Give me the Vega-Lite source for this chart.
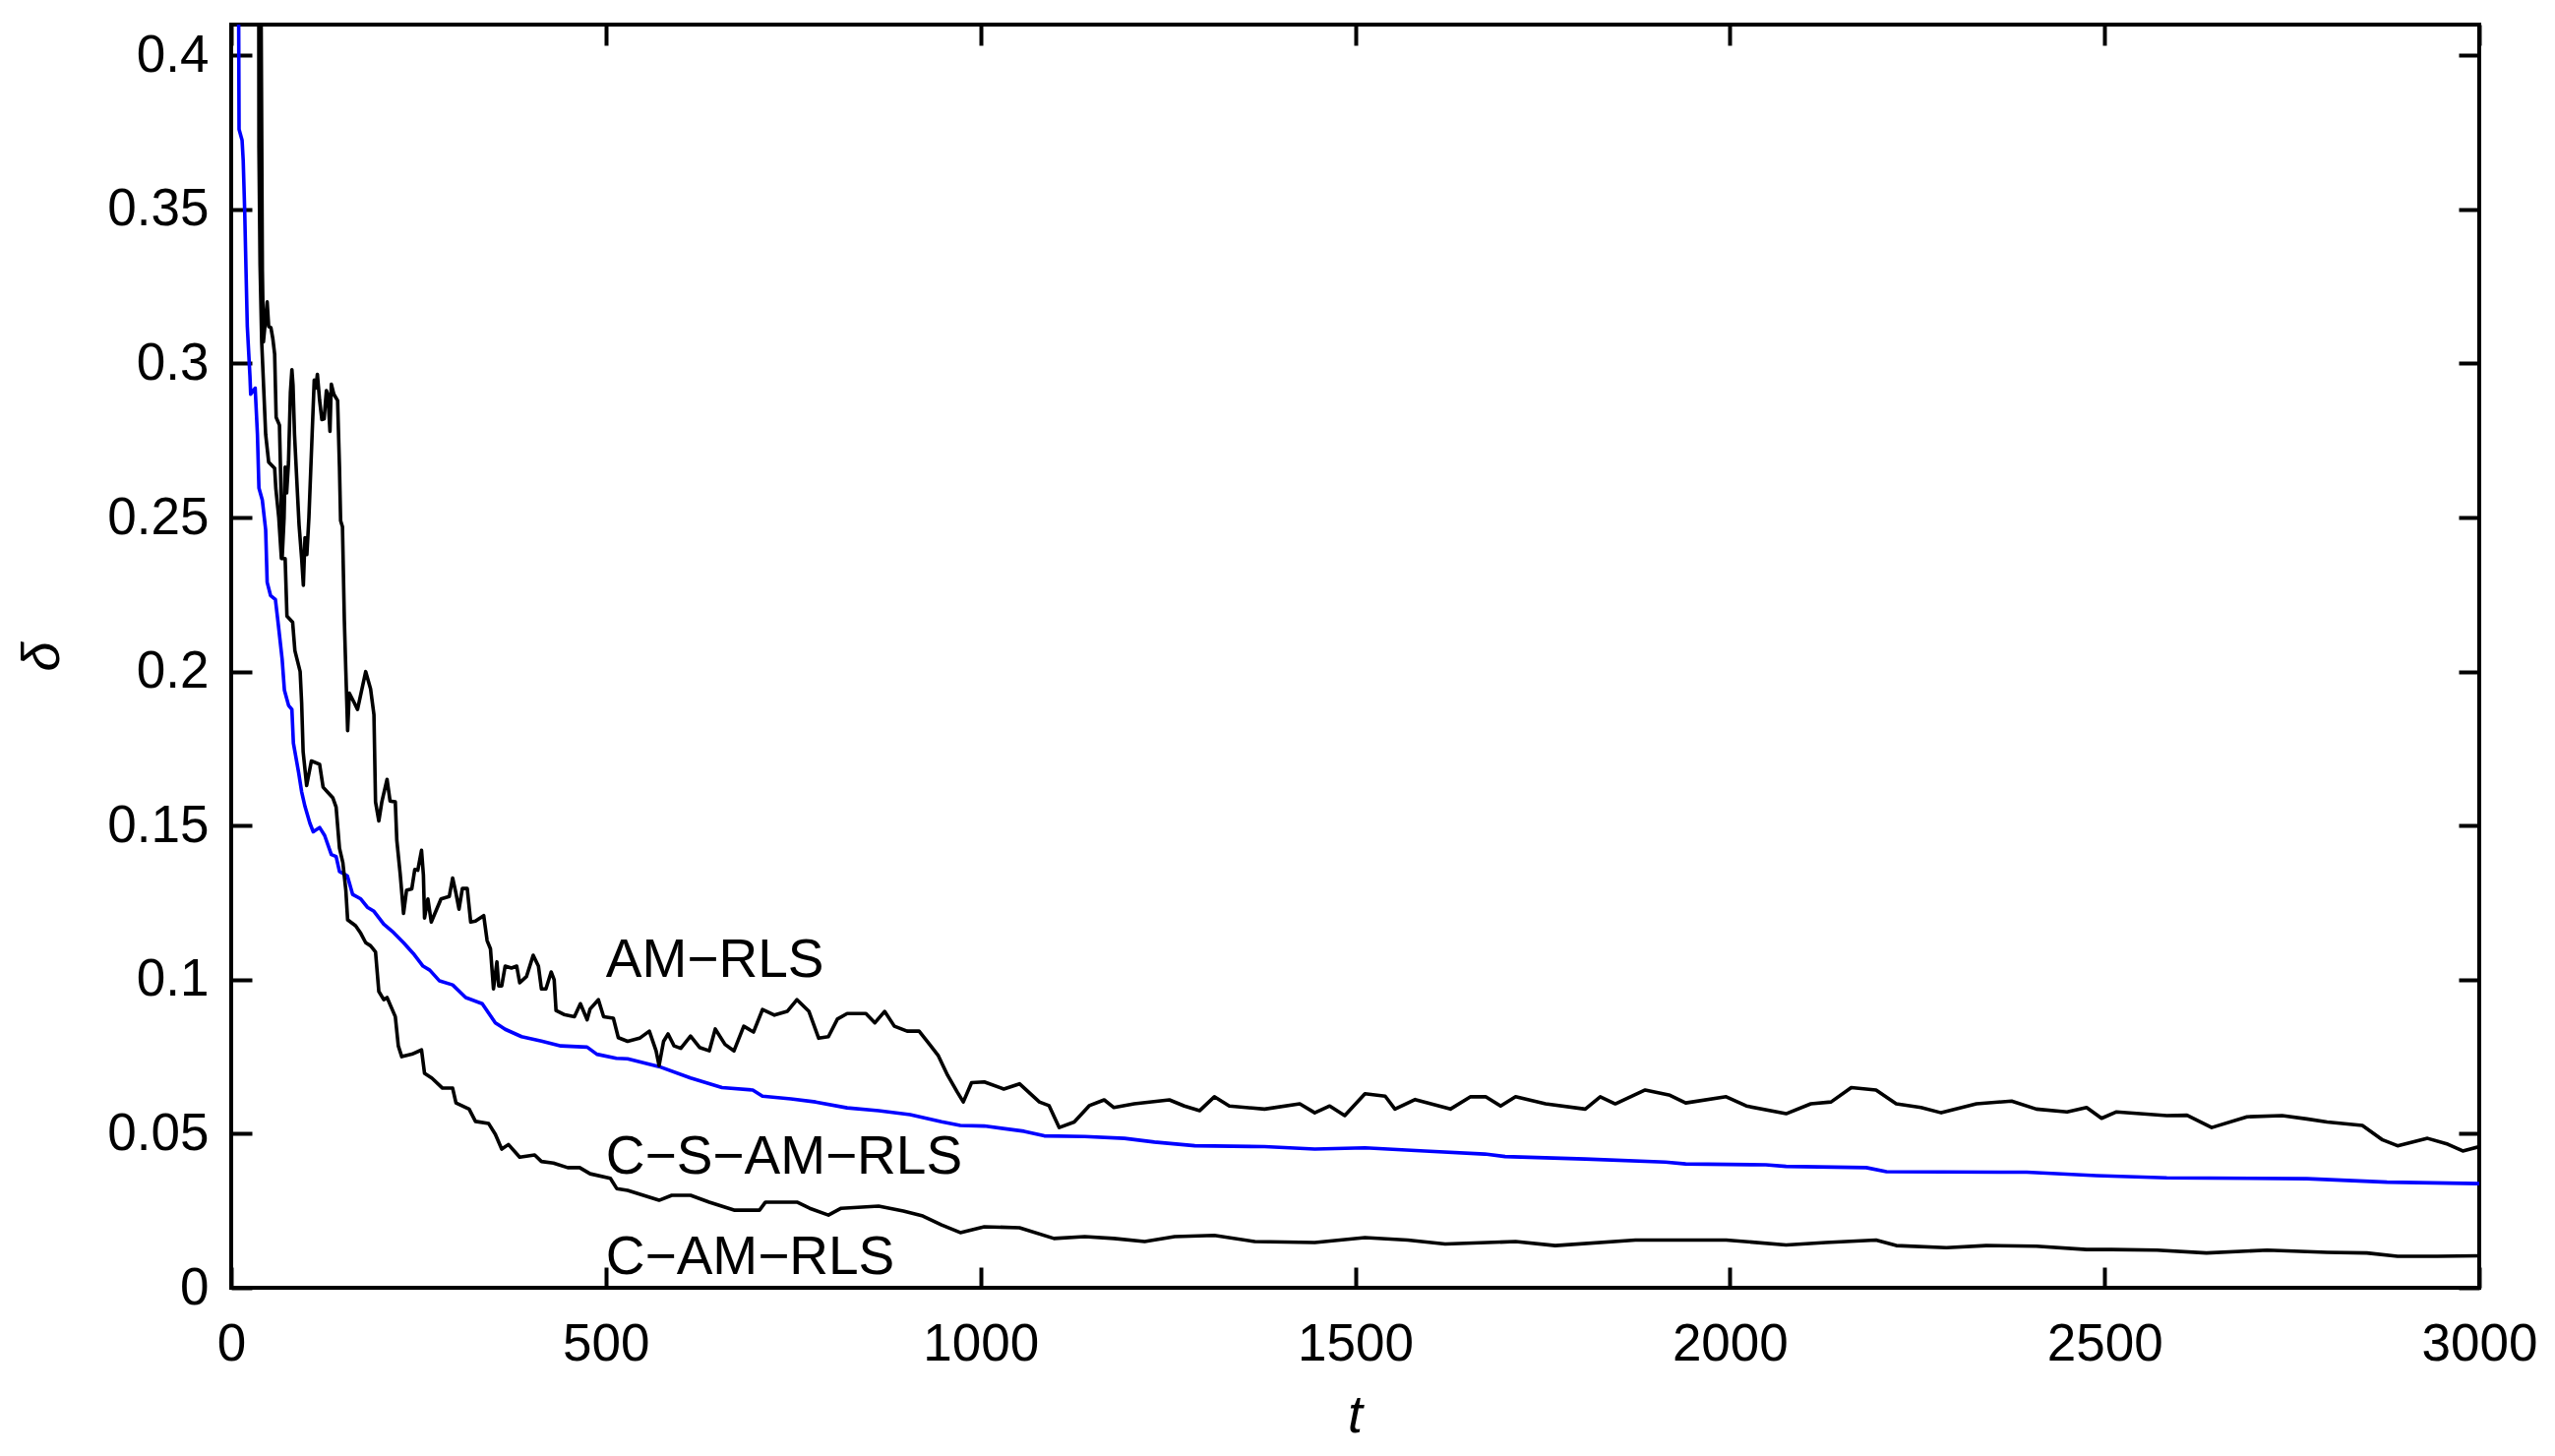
{
  "$schema": "https://vega.github.io/schema/vega-lite/v6.json",
  "width": 2285,
  "height": 1284,
  "autosize": "none",
  "padding": {"left": 235, "top": 25, "right": 77, "bottom": 171},
  "background": "white",
  "config": {
    "view": {"stroke": "black", "strokeWidth": 4},
    "font": "Liberation Sans",
    "axis": {
      "grid": false,
      "domain": false,
      "tickColor": "black",
      "tickWidth": 4,
      "tickSize": -21,
      "labelColor": "black",
      "labelFont": "Liberation Sans",
      "labelFontSize": 53,
      "labelFlush": false,
      "labelOverlap": false,
      "labelBound": false,
      "titleFont": "Liberation Sans",
      "titleColor": "black",
      "titleFontWeight": "normal",
      "titleFontStyle": "italic",
      "titleFontSize": 54
    }
  },
  "datasets": {
    "curves": [
      {"s": "C-S-AM-RLS", "t": 8, "d": 0.6}, {"s": "C-S-AM-RLS", "t": 10, "d": 0.41}, {"s": "C-S-AM-RLS", "t": 10.5, "d": 0.376}, {"s": "C-S-AM-RLS", "t": 14.5, "d": 0.3725}, {"s": "C-S-AM-RLS", "t": 16, "d": 0.366}, {"s": "C-S-AM-RLS", "t": 18, "d": 0.3496}, {"s": "C-S-AM-RLS", "t": 19.7, "d": 0.331}, {"s": "C-S-AM-RLS", "t": 21.5, "d": 0.312}, {"s": "C-S-AM-RLS", "t": 25, "d": 0.296}, {"s": "C-S-AM-RLS", "t": 26, "d": 0.29}, {"s": "C-S-AM-RLS", "t": 32, "d": 0.292}, {"s": "C-S-AM-RLS", "t": 35, "d": 0.277}, {"s": "C-S-AM-RLS", "t": 37, "d": 0.2596}, {"s": "C-S-AM-RLS", "t": 41.5, "d": 0.2557}, {"s": "C-S-AM-RLS", "t": 46, "d": 0.246}, {"s": "C-S-AM-RLS", "t": 48, "d": 0.229}, {"s": "C-S-AM-RLS", "t": 52.5, "d": 0.2247}, {"s": "C-S-AM-RLS", "t": 59, "d": 0.2234}, {"s": "C-S-AM-RLS", "t": 63, "d": 0.215}, {"s": "C-S-AM-RLS", "t": 68, "d": 0.204}, {"s": "C-S-AM-RLS", "t": 71, "d": 0.194}, {"s": "C-S-AM-RLS", "t": 76.6, "d": 0.189}, {"s": "C-S-AM-RLS", "t": 81, "d": 0.1877}, {"s": "C-S-AM-RLS", "t": 83, "d": 0.1768}, {"s": "C-S-AM-RLS", "t": 90, "d": 0.1672}, {"s": "C-S-AM-RLS", "t": 94, "d": 0.161}, {"s": "C-S-AM-RLS", "t": 98.5, "d": 0.1562}, {"s": "C-S-AM-RLS", "t": 105, "d": 0.1508}, {"s": "C-S-AM-RLS", "t": 109.5, "d": 0.148}, {"s": "C-S-AM-RLS", "t": 118, "d": 0.1494}, {"s": "C-S-AM-RLS", "t": 124.7, "d": 0.1468}, {"s": "C-S-AM-RLS", "t": 133.6, "d": 0.1406}, {"s": "C-S-AM-RLS", "t": 140, "d": 0.14}, {"s": "C-S-AM-RLS", "t": 144.5, "d": 0.1351}, {"s": "C-S-AM-RLS", "t": 155, "d": 0.1337}, {"s": "C-S-AM-RLS", "t": 162, "d": 0.1277}, {"s": "C-S-AM-RLS", "t": 173, "d": 0.1262}, {"s": "C-S-AM-RLS", "t": 181.7, "d": 0.1235}, {"s": "C-S-AM-RLS", "t": 190.5, "d": 0.1222}, {"s": "C-S-AM-RLS", "t": 203.6, "d": 0.118}, {"s": "C-S-AM-RLS", "t": 216.7, "d": 0.1153}, {"s": "C-S-AM-RLS", "t": 230, "d": 0.112}, {"s": "C-S-AM-RLS", "t": 243, "d": 0.1085}, {"s": "C-S-AM-RLS", "t": 256, "d": 0.1044}, {"s": "C-S-AM-RLS", "t": 265, "d": 0.1031}, {"s": "C-S-AM-RLS", "t": 278, "d": 0.0996}, {"s": "C-S-AM-RLS", "t": 295.5, "d": 0.0983}, {"s": "C-S-AM-RLS", "t": 313, "d": 0.0942}, {"s": "C-S-AM-RLS", "t": 335, "d": 0.0922}, {"s": "C-S-AM-RLS", "t": 352.5, "d": 0.086}, {"s": "C-S-AM-RLS", "t": 365.6, "d": 0.0839}, {"s": "C-S-AM-RLS", "t": 387.5, "d": 0.0815}, {"s": "C-S-AM-RLS", "t": 414, "d": 0.0801}, {"s": "C-S-AM-RLS", "t": 440, "d": 0.0785}, {"s": "C-S-AM-RLS", "t": 475, "d": 0.0781}, {"s": "C-S-AM-RLS", "t": 488, "d": 0.0758}, {"s": "C-S-AM-RLS", "t": 514, "d": 0.0745}, {"s": "C-S-AM-RLS", "t": 529, "d": 0.0743}, {"s": "C-S-AM-RLS", "t": 571, "d": 0.0718}, {"s": "C-S-AM-RLS", "t": 613, "d": 0.0681}, {"s": "C-S-AM-RLS", "t": 655, "d": 0.065}, {"s": "C-S-AM-RLS", "t": 696, "d": 0.0642}, {"s": "C-S-AM-RLS", "t": 709, "d": 0.0622}, {"s": "C-S-AM-RLS", "t": 747, "d": 0.0613}, {"s": "C-S-AM-RLS", "t": 780, "d": 0.0603}, {"s": "C-S-AM-RLS", "t": 822, "d": 0.0584}, {"s": "C-S-AM-RLS", "t": 864, "d": 0.0575}, {"s": "C-S-AM-RLS", "t": 906, "d": 0.0562}, {"s": "C-S-AM-RLS", "t": 948, "d": 0.0539}, {"s": "C-S-AM-RLS", "t": 973, "d": 0.0527}, {"s": "C-S-AM-RLS", "t": 1005, "d": 0.0525}, {"s": "C-S-AM-RLS", "t": 1058, "d": 0.0508}, {"s": "C-S-AM-RLS", "t": 1085, "d": 0.0493}, {"s": "C-S-AM-RLS", "t": 1139, "d": 0.0491}, {"s": "C-S-AM-RLS", "t": 1192, "d": 0.0485}, {"s": "C-S-AM-RLS", "t": 1232, "d": 0.0473}, {"s": "C-S-AM-RLS", "t": 1286, "d": 0.0461}, {"s": "C-S-AM-RLS", "t": 1379, "d": 0.0458}, {"s": "C-S-AM-RLS", "t": 1446, "d": 0.045}, {"s": "C-S-AM-RLS", "t": 1513, "d": 0.0454}, {"s": "C-S-AM-RLS", "t": 1593, "d": 0.0444}, {"s": "C-S-AM-RLS", "t": 1673, "d": 0.0434}, {"s": "C-S-AM-RLS", "t": 1700, "d": 0.0426}, {"s": "C-S-AM-RLS", "t": 1807, "d": 0.0418}, {"s": "C-S-AM-RLS", "t": 1914, "d": 0.0408}, {"s": "C-S-AM-RLS", "t": 1941, "d": 0.0402}, {"s": "C-S-AM-RLS", "t": 2048, "d": 0.0399}, {"s": "C-S-AM-RLS", "t": 2075, "d": 0.0394}, {"s": "C-S-AM-RLS", "t": 2182, "d": 0.039}, {"s": "C-S-AM-RLS", "t": 2209, "d": 0.0377}, {"s": "C-S-AM-RLS", "t": 2396, "d": 0.0375}, {"s": "C-S-AM-RLS", "t": 2489, "d": 0.0364}, {"s": "C-S-AM-RLS", "t": 2583, "d": 0.0357}, {"s": "C-S-AM-RLS", "t": 2770, "d": 0.0354}, {"s": "C-S-AM-RLS", "t": 2877, "d": 0.0343}, {"s": "C-S-AM-RLS", "t": 3000, "d": 0.0338},

      {"s": "C-AM-RLS", "t": 36, "d": 0.6}, {"s": "C-AM-RLS", "t": 37, "d": 0.37}, {"s": "C-AM-RLS", "t": 38.5, "d": 0.332}, {"s": "C-AM-RLS", "t": 40.7, "d": 0.307}, {"s": "C-AM-RLS", "t": 46, "d": 0.277}, {"s": "C-AM-RLS", "t": 50, "d": 0.268}, {"s": "C-AM-RLS", "t": 58, "d": 0.266}, {"s": "C-AM-RLS", "t": 59.5, "d": 0.2596}, {"s": "C-AM-RLS", "t": 63.5, "d": 0.25}, {"s": "C-AM-RLS", "t": 67, "d": 0.2367}, {"s": "C-AM-RLS", "t": 72, "d": 0.2367}, {"s": "C-AM-RLS", "t": 74.4, "d": 0.218}, {"s": "C-AM-RLS", "t": 82, "d": 0.216}, {"s": "C-AM-RLS", "t": 85, "d": 0.2068}, {"s": "C-AM-RLS", "t": 92, "d": 0.2}, {"s": "C-AM-RLS", "t": 94, "d": 0.19}, {"s": "C-AM-RLS", "t": 96, "d": 0.174}, {"s": "C-AM-RLS", "t": 100.7, "d": 0.163}, {"s": "C-AM-RLS", "t": 107, "d": 0.171}, {"s": "C-AM-RLS", "t": 118, "d": 0.1699}, {"s": "C-AM-RLS", "t": 122.6, "d": 0.1625}, {"s": "C-AM-RLS", "t": 129, "d": 0.1608}, {"s": "C-AM-RLS", "t": 135.7, "d": 0.159}, {"s": "C-AM-RLS", "t": 140, "d": 0.156}, {"s": "C-AM-RLS", "t": 144.5, "d": 0.1427}, {"s": "C-AM-RLS", "t": 149, "d": 0.138}, {"s": "C-AM-RLS", "t": 153, "d": 0.129}, {"s": "C-AM-RLS", "t": 155.4, "d": 0.1194}, {"s": "C-AM-RLS", "t": 166, "d": 0.1175}, {"s": "C-AM-RLS", "t": 173, "d": 0.115}, {"s": "C-AM-RLS", "t": 179.5, "d": 0.112}, {"s": "C-AM-RLS", "t": 186, "d": 0.111}, {"s": "C-AM-RLS", "t": 192.6, "d": 0.109}, {"s": "C-AM-RLS", "t": 197, "d": 0.0962}, {"s": "C-AM-RLS", "t": 203.6, "d": 0.0935}, {"s": "C-AM-RLS", "t": 208, "d": 0.0942}, {"s": "C-AM-RLS", "t": 219, "d": 0.088}, {"s": "C-AM-RLS", "t": 223, "d": 0.0785}, {"s": "C-AM-RLS", "t": 227.6, "d": 0.075}, {"s": "C-AM-RLS", "t": 241, "d": 0.0758}, {"s": "C-AM-RLS", "t": 254, "d": 0.0772}, {"s": "C-AM-RLS", "t": 258, "d": 0.0696}, {"s": "C-AM-RLS", "t": 268, "d": 0.068}, {"s": "C-AM-RLS", "t": 282, "d": 0.0648}, {"s": "C-AM-RLS", "t": 295.5, "d": 0.0648}, {"s": "C-AM-RLS", "t": 300, "d": 0.06}, {"s": "C-AM-RLS", "t": 317.5, "d": 0.058}, {"s": "C-AM-RLS", "t": 326, "d": 0.054}, {"s": "C-AM-RLS", "t": 343.6, "d": 0.0533}, {"s": "C-AM-RLS", "t": 352.5, "d": 0.0498}, {"s": "C-AM-RLS", "t": 361, "d": 0.045}, {"s": "C-AM-RLS", "t": 370, "d": 0.0465}, {"s": "C-AM-RLS", "t": 385, "d": 0.0424}, {"s": "C-AM-RLS", "t": 405, "d": 0.0431}, {"s": "C-AM-RLS", "t": 414, "d": 0.041}, {"s": "C-AM-RLS", "t": 430, "d": 0.0405}, {"s": "C-AM-RLS", "t": 449, "d": 0.039}, {"s": "C-AM-RLS", "t": 465, "d": 0.039}, {"s": "C-AM-RLS", "t": 479, "d": 0.037}, {"s": "C-AM-RLS", "t": 506, "d": 0.0355}, {"s": "C-AM-RLS", "t": 514.5, "d": 0.0322}, {"s": "C-AM-RLS", "t": 529, "d": 0.0316}, {"s": "C-AM-RLS", "t": 571, "d": 0.0284}, {"s": "C-AM-RLS", "t": 588, "d": 0.03}, {"s": "C-AM-RLS", "t": 613, "d": 0.03}, {"s": "C-AM-RLS", "t": 638, "d": 0.0278}, {"s": "C-AM-RLS", "t": 671, "d": 0.0252}, {"s": "C-AM-RLS", "t": 705, "d": 0.0252}, {"s": "C-AM-RLS", "t": 713, "d": 0.0278}, {"s": "C-AM-RLS", "t": 755, "d": 0.0278}, {"s": "C-AM-RLS", "t": 772, "d": 0.0258}, {"s": "C-AM-RLS", "t": 797, "d": 0.0236}, {"s": "C-AM-RLS", "t": 814, "d": 0.0258}, {"s": "C-AM-RLS", "t": 864, "d": 0.0265}, {"s": "C-AM-RLS", "t": 897, "d": 0.0249}, {"s": "C-AM-RLS", "t": 923, "d": 0.0233}, {"s": "C-AM-RLS", "t": 948, "d": 0.0204}, {"s": "C-AM-RLS", "t": 973, "d": 0.0179}, {"s": "C-AM-RLS", "t": 1005, "d": 0.0198}, {"s": "C-AM-RLS", "t": 1052, "d": 0.0195}, {"s": "C-AM-RLS", "t": 1098, "d": 0.016}, {"s": "C-AM-RLS", "t": 1139, "d": 0.0166}, {"s": "C-AM-RLS", "t": 1178, "d": 0.016}, {"s": "C-AM-RLS", "t": 1219, "d": 0.015}, {"s": "C-AM-RLS", "t": 1259, "d": 0.0166}, {"s": "C-AM-RLS", "t": 1312, "d": 0.017}, {"s": "C-AM-RLS", "t": 1366, "d": 0.015}, {"s": "C-AM-RLS", "t": 1446, "d": 0.0147}, {"s": "C-AM-RLS", "t": 1513, "d": 0.0163}, {"s": "C-AM-RLS", "t": 1570, "d": 0.0155}, {"s": "C-AM-RLS", "t": 1620, "d": 0.0142}, {"s": "C-AM-RLS", "t": 1714, "d": 0.015}, {"s": "C-AM-RLS", "t": 1767, "d": 0.0137}, {"s": "C-AM-RLS", "t": 1874, "d": 0.0155}, {"s": "C-AM-RLS", "t": 1995, "d": 0.0155}, {"s": "C-AM-RLS", "t": 2075, "d": 0.0139}, {"s": "C-AM-RLS", "t": 2128, "d": 0.0147}, {"s": "C-AM-RLS", "t": 2195, "d": 0.0155}, {"s": "C-AM-RLS", "t": 2222, "d": 0.0137}, {"s": "C-AM-RLS", "t": 2289, "d": 0.013}, {"s": "C-AM-RLS", "t": 2342, "d": 0.0137}, {"s": "C-AM-RLS", "t": 2409, "d": 0.0135}, {"s": "C-AM-RLS", "t": 2476, "d": 0.0124}, {"s": "C-AM-RLS", "t": 2509, "d": 0.0124}, {"s": "C-AM-RLS", "t": 2570, "d": 0.0122}, {"s": "C-AM-RLS", "t": 2636, "d": 0.0113}, {"s": "C-AM-RLS", "t": 2717, "d": 0.0122}, {"s": "C-AM-RLS", "t": 2797, "d": 0.0115}, {"s": "C-AM-RLS", "t": 2850, "d": 0.0113}, {"s": "C-AM-RLS", "t": 2891, "d": 0.0102}, {"s": "C-AM-RLS", "t": 2944, "d": 0.0102}, {"s": "C-AM-RLS", "t": 3000, "d": 0.0104},

      {"s": "AM-RLS", "t": 38, "d": 0.6}, {"s": "AM-RLS", "t": 40, "d": 0.41}, {"s": "AM-RLS", "t": 41.6, "d": 0.33}, {"s": "AM-RLS", "t": 43, "d": 0.307}, {"s": "AM-RLS", "t": 48, "d": 0.32}, {"s": "AM-RLS", "t": 50, "d": 0.312}, {"s": "AM-RLS", "t": 53, "d": 0.3116}, {"s": "AM-RLS", "t": 55.6, "d": 0.308}, {"s": "AM-RLS", "t": 58, "d": 0.303}, {"s": "AM-RLS", "t": 60, "d": 0.2825}, {"s": "AM-RLS", "t": 64.4, "d": 0.28}, {"s": "AM-RLS", "t": 66, "d": 0.2636}, {"s": "AM-RLS", "t": 68, "d": 0.2368}, {"s": "AM-RLS", "t": 70.6, "d": 0.25}, {"s": "AM-RLS", "t": 72, "d": 0.2664}, {"s": "AM-RLS", "t": 74, "d": 0.258}, {"s": "AM-RLS", "t": 76.5, "d": 0.268}, {"s": "AM-RLS", "t": 79, "d": 0.2905}, {"s": "AM-RLS", "t": 81, "d": 0.298}, {"s": "AM-RLS", "t": 82.5, "d": 0.293}, {"s": "AM-RLS", "t": 84.5, "d": 0.277}, {"s": "AM-RLS", "t": 88.6, "d": 0.257}, {"s": "AM-RLS", "t": 90.6, "d": 0.2475}, {"s": "AM-RLS", "t": 94, "d": 0.2368}, {"s": "AM-RLS", "t": 96.3, "d": 0.228}, {"s": "AM-RLS", "t": 98.5, "d": 0.2435}, {"s": "AM-RLS", "t": 101, "d": 0.238}, {"s": "AM-RLS", "t": 103.7, "d": 0.25}, {"s": "AM-RLS", "t": 108, "d": 0.277}, {"s": "AM-RLS", "t": 110.8, "d": 0.2946}, {"s": "AM-RLS", "t": 113, "d": 0.292}, {"s": "AM-RLS", "t": 115, "d": 0.2965}, {"s": "AM-RLS", "t": 118, "d": 0.288}, {"s": "AM-RLS", "t": 121, "d": 0.2818}, {"s": "AM-RLS", "t": 124, "d": 0.282}, {"s": "AM-RLS", "t": 127, "d": 0.2912}, {"s": "AM-RLS", "t": 129, "d": 0.29}, {"s": "AM-RLS", "t": 131.8, "d": 0.278}, {"s": "AM-RLS", "t": 133.6, "d": 0.2933}, {"s": "AM-RLS", "t": 137, "d": 0.29}, {"s": "AM-RLS", "t": 142, "d": 0.288}, {"s": "AM-RLS", "t": 144.5, "d": 0.2664}, {"s": "AM-RLS", "t": 146, "d": 0.249}, {"s": "AM-RLS", "t": 148.5, "d": 0.247}, {"s": "AM-RLS", "t": 151, "d": 0.2167}, {"s": "AM-RLS", "t": 153, "d": 0.2}, {"s": "AM-RLS", "t": 155.4, "d": 0.1808}, {"s": "AM-RLS", "t": 157.6, "d": 0.193}, {"s": "AM-RLS", "t": 164, "d": 0.19}, {"s": "AM-RLS", "t": 168.6, "d": 0.1877}, {"s": "AM-RLS", "t": 179.5, "d": 0.2}, {"s": "AM-RLS", "t": 186, "d": 0.1944}, {"s": "AM-RLS", "t": 190.5, "d": 0.186}, {"s": "AM-RLS", "t": 192.6, "d": 0.1577}, {"s": "AM-RLS", "t": 197, "d": 0.1515}, {"s": "AM-RLS", "t": 201, "d": 0.1577}, {"s": "AM-RLS", "t": 208, "d": 0.165}, {"s": "AM-RLS", "t": 212, "d": 0.158}, {"s": "AM-RLS", "t": 219, "d": 0.1577}, {"s": "AM-RLS", "t": 221, "d": 0.1453}, {"s": "AM-RLS", "t": 225.5, "d": 0.1344}, {"s": "AM-RLS", "t": 230, "d": 0.1215}, {"s": "AM-RLS", "t": 234, "d": 0.129}, {"s": "AM-RLS", "t": 241, "d": 0.1295}, {"s": "AM-RLS", "t": 245, "d": 0.1358}, {"s": "AM-RLS", "t": 249, "d": 0.1355}, {"s": "AM-RLS", "t": 254, "d": 0.142}, {"s": "AM-RLS", "t": 256.5, "d": 0.134}, {"s": "AM-RLS", "t": 258, "d": 0.12}, {"s": "AM-RLS", "t": 262.5, "d": 0.1262}, {"s": "AM-RLS", "t": 267, "d": 0.1187}, {"s": "AM-RLS", "t": 271, "d": 0.121}, {"s": "AM-RLS", "t": 280, "d": 0.1262}, {"s": "AM-RLS", "t": 291, "d": 0.127}, {"s": "AM-RLS", "t": 295.5, "d": 0.133}, {"s": "AM-RLS", "t": 300, "d": 0.128}, {"s": "AM-RLS", "t": 304, "d": 0.1229}, {"s": "AM-RLS", "t": 308.5, "d": 0.1296}, {"s": "AM-RLS", "t": 315, "d": 0.1296}, {"s": "AM-RLS", "t": 319.6, "d": 0.1187}, {"s": "AM-RLS", "t": 326, "d": 0.119}, {"s": "AM-RLS", "t": 337, "d": 0.1208}, {"s": "AM-RLS", "t": 341.5, "d": 0.1127}, {"s": "AM-RLS", "t": 346, "d": 0.11}, {"s": "AM-RLS", "t": 350, "d": 0.097}, {"s": "AM-RLS", "t": 354.6, "d": 0.1058}, {"s": "AM-RLS", "t": 357, "d": 0.098}, {"s": "AM-RLS", "t": 361, "d": 0.098}, {"s": "AM-RLS", "t": 365.6, "d": 0.1044}, {"s": "AM-RLS", "t": 374, "d": 0.1038}, {"s": "AM-RLS", "t": 381, "d": 0.1044}, {"s": "AM-RLS", "t": 385, "d": 0.099}, {"s": "AM-RLS", "t": 394, "d": 0.101}, {"s": "AM-RLS", "t": 403, "d": 0.1079}, {"s": "AM-RLS", "t": 410, "d": 0.1044}, {"s": "AM-RLS", "t": 414, "d": 0.097}, {"s": "AM-RLS", "t": 420, "d": 0.097}, {"s": "AM-RLS", "t": 427, "d": 0.1025}, {"s": "AM-RLS", "t": 431, "d": 0.1}, {"s": "AM-RLS", "t": 433.5, "d": 0.09}, {"s": "AM-RLS", "t": 444, "d": 0.0887}, {"s": "AM-RLS", "t": 458, "d": 0.088}, {"s": "AM-RLS", "t": 466, "d": 0.0922}, {"s": "AM-RLS", "t": 475, "d": 0.087}, {"s": "AM-RLS", "t": 479, "d": 0.0905}, {"s": "AM-RLS", "t": 490, "d": 0.0935}, {"s": "AM-RLS", "t": 497, "d": 0.088}, {"s": "AM-RLS", "t": 510, "d": 0.0875}, {"s": "AM-RLS", "t": 516.6, "d": 0.0812}, {"s": "AM-RLS", "t": 529, "d": 0.08}, {"s": "AM-RLS", "t": 545, "d": 0.081}, {"s": "AM-RLS", "t": 558, "d": 0.0833}, {"s": "AM-RLS", "t": 567, "d": 0.0769}, {"s": "AM-RLS", "t": 571, "d": 0.0721}, {"s": "AM-RLS", "t": 577, "d": 0.08}, {"s": "AM-RLS", "t": 583, "d": 0.0824}, {"s": "AM-RLS", "t": 591, "d": 0.0785}, {"s": "AM-RLS", "t": 600, "d": 0.0777}, {"s": "AM-RLS", "t": 613, "d": 0.0817}, {"s": "AM-RLS", "t": 625, "d": 0.078}, {"s": "AM-RLS", "t": 638, "d": 0.0769}, {"s": "AM-RLS", "t": 646, "d": 0.084}, {"s": "AM-RLS", "t": 659, "d": 0.079}, {"s": "AM-RLS", "t": 671, "d": 0.0769}, {"s": "AM-RLS", "t": 684, "d": 0.0849}, {"s": "AM-RLS", "t": 697, "d": 0.083}, {"s": "AM-RLS", "t": 709, "d": 0.0903}, {"s": "AM-RLS", "t": 725, "d": 0.0885}, {"s": "AM-RLS", "t": 742, "d": 0.0897}, {"s": "AM-RLS", "t": 755, "d": 0.0935}, {"s": "AM-RLS", "t": 771, "d": 0.0897}, {"s": "AM-RLS", "t": 784, "d": 0.081}, {"s": "AM-RLS", "t": 797, "d": 0.0815}, {"s": "AM-RLS", "t": 809, "d": 0.0872}, {"s": "AM-RLS", "t": 822, "d": 0.089}, {"s": "AM-RLS", "t": 847, "d": 0.089}, {"s": "AM-RLS", "t": 859, "d": 0.086}, {"s": "AM-RLS", "t": 872, "d": 0.0897}, {"s": "AM-RLS", "t": 885, "d": 0.0849}, {"s": "AM-RLS", "t": 902, "d": 0.0833}, {"s": "AM-RLS", "t": 918, "d": 0.0833}, {"s": "AM-RLS", "t": 931, "d": 0.0793}, {"s": "AM-RLS", "t": 943.7, "d": 0.0753}, {"s": "AM-RLS", "t": 956, "d": 0.069}, {"s": "AM-RLS", "t": 969, "d": 0.0635}, {"s": "AM-RLS", "t": 977, "d": 0.0603}, {"s": "AM-RLS", "t": 988, "d": 0.0666}, {"s": "AM-RLS", "t": 1005, "d": 0.0668}, {"s": "AM-RLS", "t": 1031, "d": 0.0645}, {"s": "AM-RLS", "t": 1052, "d": 0.0662}, {"s": "AM-RLS", "t": 1078.5, "d": 0.0603}, {"s": "AM-RLS", "t": 1091.5, "d": 0.0591}, {"s": "AM-RLS", "t": 1105, "d": 0.052}, {"s": "AM-RLS", "t": 1125, "d": 0.0538}, {"s": "AM-RLS", "t": 1145, "d": 0.0591}, {"s": "AM-RLS", "t": 1165, "d": 0.061}, {"s": "AM-RLS", "t": 1178, "d": 0.0585}, {"s": "AM-RLS", "t": 1205, "d": 0.0597}, {"s": "AM-RLS", "t": 1252, "d": 0.061}, {"s": "AM-RLS", "t": 1272, "d": 0.059}, {"s": "AM-RLS", "t": 1292.5, "d": 0.0575}, {"s": "AM-RLS", "t": 1312, "d": 0.062}, {"s": "AM-RLS", "t": 1332, "d": 0.059}, {"s": "AM-RLS", "t": 1379, "d": 0.058}, {"s": "AM-RLS", "t": 1426, "d": 0.0597}, {"s": "AM-RLS", "t": 1446, "d": 0.0568}, {"s": "AM-RLS", "t": 1466, "d": 0.059}, {"s": "AM-RLS", "t": 1486, "d": 0.0559}, {"s": "AM-RLS", "t": 1513, "d": 0.063}, {"s": "AM-RLS", "t": 1540, "d": 0.0622}, {"s": "AM-RLS", "t": 1553, "d": 0.058}, {"s": "AM-RLS", "t": 1580, "d": 0.0611}, {"s": "AM-RLS", "t": 1627, "d": 0.058}, {"s": "AM-RLS", "t": 1654, "d": 0.062}, {"s": "AM-RLS", "t": 1674, "d": 0.062}, {"s": "AM-RLS", "t": 1694, "d": 0.059}, {"s": "AM-RLS", "t": 1714, "d": 0.062}, {"s": "AM-RLS", "t": 1754, "d": 0.0597}, {"s": "AM-RLS", "t": 1807, "d": 0.058}, {"s": "AM-RLS", "t": 1827, "d": 0.062}, {"s": "AM-RLS", "t": 1847, "d": 0.0597}, {"s": "AM-RLS", "t": 1887, "d": 0.0642}, {"s": "AM-RLS", "t": 1920, "d": 0.0625}, {"s": "AM-RLS", "t": 1941, "d": 0.06}, {"s": "AM-RLS", "t": 1995, "d": 0.062}, {"s": "AM-RLS", "t": 2022, "d": 0.059}, {"s": "AM-RLS", "t": 2075, "d": 0.0565}, {"s": "AM-RLS", "t": 2108, "d": 0.0597}, {"s": "AM-RLS", "t": 2135, "d": 0.0603}, {"s": "AM-RLS", "t": 2162, "d": 0.065}, {"s": "AM-RLS", "t": 2195, "d": 0.0642}, {"s": "AM-RLS", "t": 2222, "d": 0.0597}, {"s": "AM-RLS", "t": 2255, "d": 0.0585}, {"s": "AM-RLS", "t": 2282, "d": 0.0568}, {"s": "AM-RLS", "t": 2329, "d": 0.0597}, {"s": "AM-RLS", "t": 2376, "d": 0.0606}, {"s": "AM-RLS", "t": 2409, "d": 0.058}, {"s": "AM-RLS", "t": 2450, "d": 0.0571}, {"s": "AM-RLS", "t": 2476, "d": 0.0585}, {"s": "AM-RLS", "t": 2496, "d": 0.055}, {"s": "AM-RLS", "t": 2516, "d": 0.0571}, {"s": "AM-RLS", "t": 2583, "d": 0.0559}, {"s": "AM-RLS", "t": 2610, "d": 0.056}, {"s": "AM-RLS", "t": 2643, "d": 0.052}, {"s": "AM-RLS", "t": 2690, "d": 0.0555}, {"s": "AM-RLS", "t": 2737, "d": 0.0559}, {"s": "AM-RLS", "t": 2770, "d": 0.0548}, {"s": "AM-RLS", "t": 2797, "d": 0.0538}, {"s": "AM-RLS", "t": 2844, "d": 0.0527}, {"s": "AM-RLS", "t": 2871, "d": 0.048}, {"s": "AM-RLS", "t": 2891, "d": 0.0461}, {"s": "AM-RLS", "t": 2931, "d": 0.0485}, {"s": "AM-RLS", "t": 2958, "d": 0.0466}, {"s": "AM-RLS", "t": 2978, "d": 0.0444}, {"s": "AM-RLS", "t": 3000, "d": 0.0458}
    ],
    "labels": [
      {"label": "AM−RLS", "t": 500, "d": 0.1009},
      {"label": "C−S−AM−RLS", "t": 500, "d": 0.037},
      {"label": "C−AM−RLS", "t": 500, "d": 0.0045}
    ]
  },
  "layer": [
    {
      "data": {"name": "curves"},
      "mark": {"type": "line", "clip": true, "strokeWidth": 3.6, "strokeJoin": "round"},
      "encoding": {
        "x": {
          "field": "t",
          "type": "quantitative",
          "scale": {"domain": [0, 3000], "nice": false, "zero": false},
          "axis": {
            "orient": "bottom",
            "values": [0, 500, 1000, 1500, 2000, 2500, 3000],
            "format": "d",
            "labelPadding": 52,
            "title": "t",
            "titleX": 1142,
            "titleY": 146,
            "titleAlign": "center",
            "titleBaseline": "alphabetic"
          }
        },
        "y": {
          "field": "d",
          "type": "quantitative",
          "scale": {"domain": [0, 0.41], "nice": false},
          "axis": {
            "orient": "left",
            "values": [0, 0.05, 0.1, 0.15, 0.2, 0.25, 0.3, 0.35, 0.4],
            "format": "~g",
            "labelPadding": 44,
            "title": "δ",
            "titleX": -176,
            "titleY": 642,
            "titleAngle": -90,
            "titleAlign": "center",
            "titleBaseline": "alphabetic"
          }
        },
        "color": {
          "field": "s",
          "type": "nominal",
          "scale": {"domain": ["AM-RLS", "C-S-AM-RLS", "C-AM-RLS"], "range": ["#000000", "#0000ff", "#000000"]},
          "legend": null
        },
        "order": {"field": "t", "type": "quantitative"}
      }
    },
    {
      "data": {"name": "labels"},
      "mark": {"type": "text", "align": "left", "baseline": "alphabetic", "font": "Liberation Sans", "fontSize": 55, "color": "black"},
      "encoding": {
        "x": {
          "field": "t",
          "type": "quantitative",
          "axis": {"orient": "top", "values": [0, 500, 1000, 1500, 2000, 2500, 3000], "labels": false, "title": null}
        },
        "y": {
          "field": "d",
          "type": "quantitative",
          "axis": {"orient": "right", "values": [0, 0.05, 0.1, 0.15, 0.2, 0.25, 0.3, 0.35, 0.4], "labels": false, "title": null}
        },
        "text": {"field": "label"}
      }
    }
  ],
  "resolve": {"axis": {"x": "independent", "y": "independent"}}
}
